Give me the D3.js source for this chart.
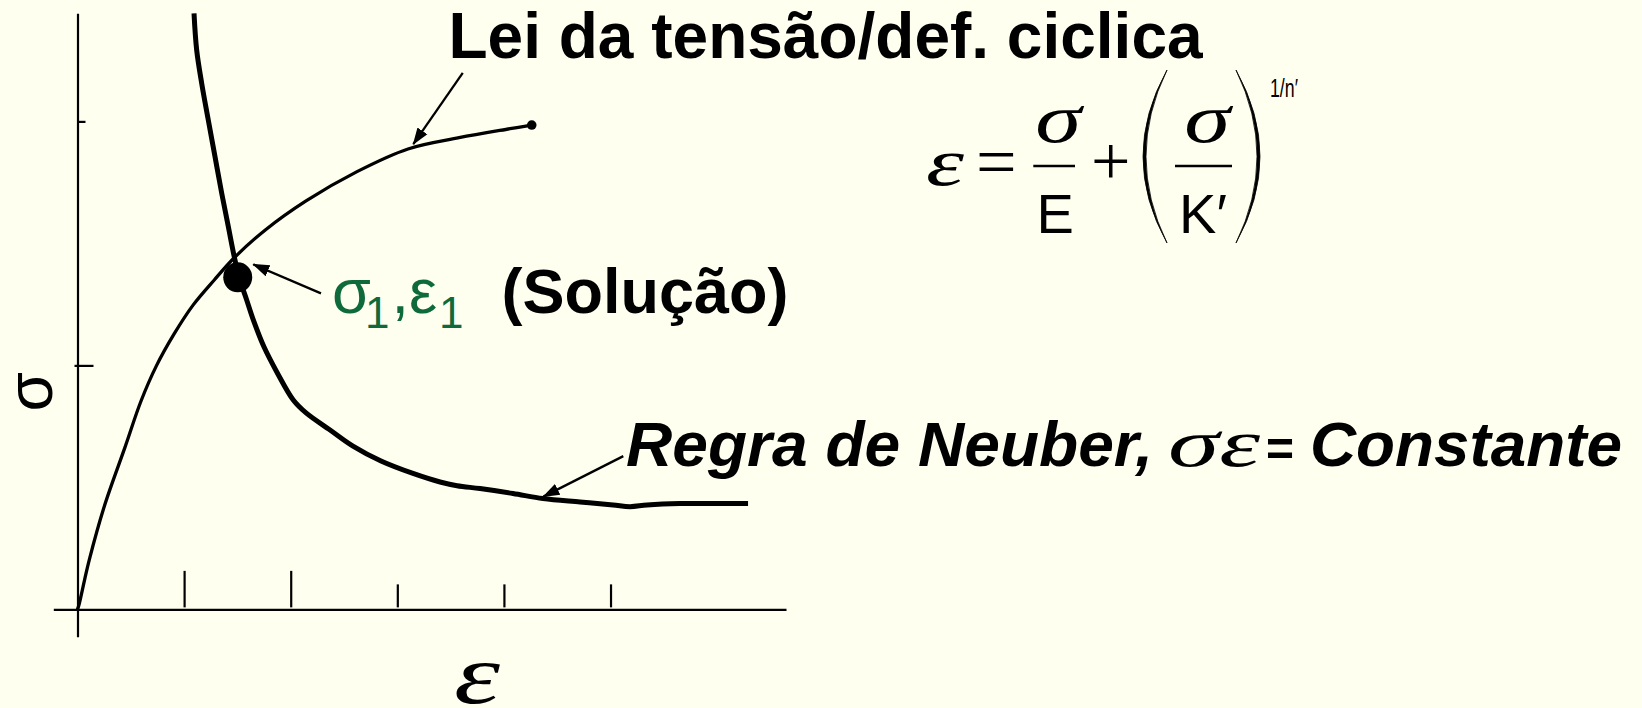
<!DOCTYPE html>
<html>
<head>
<meta charset="utf-8">
<script src="https://cdn.jsdelivr.net/npm/d3@7"></script>
<style>
  html, body { margin: 0; padding: 0; background: #FFFFF0; }
  svg { display: block; }
</style>
</head>
<body>
<svg id="chart" width="1642" height="708"></svg>
<script>
// Unlabeled ticks on the strain (ε) and stress (σ) axes
const strainTicks = [1, 2, 3, 4, 5];
const stressTicks = [1, 2];
// Extent of the drawn axis lines, in the same units
const strainExtent = [-0.227, 6.646];
const stressExtent = [-0.112, 2.443];

// Cyclic stress-strain curve, [ε, σ]
const cyclicCurve = [
  [0.000, 0.000], [0.014, 0.019], [0.066, 0.120], [0.111, 0.204],
  [0.254, 0.426], [0.446, 0.665], [0.596, 0.854], [0.741, 0.999],
  [0.905, 1.128], [1.084, 1.247], [1.283, 1.350], [1.475, 1.443],
  [1.762, 1.555], [2.144, 1.674], [2.622, 1.794], [3.100, 1.887],
  [3.579, 1.933], [4.057, 1.970], [4.261, 1.985]
];

// Neuber's rule, σε = constant, [ε, σ]
const neuberCurve = [
  [1.093, 2.443], [1.118, 2.292], [1.165, 2.156], [1.227, 2.005],
  [1.290, 1.855], [1.353, 1.705], [1.415, 1.568], [1.473, 1.440],
  [1.524, 1.350], [1.587, 1.268], [1.656, 1.178], [1.750, 1.075],
  [1.872, 0.971], [2.024, 0.858], [2.144, 0.805], [2.369, 0.735],
  [2.584, 0.669], [2.847, 0.608], [3.147, 0.557], [3.401, 0.522],
  [3.560, 0.507], [3.776, 0.495], [4.085, 0.475], [4.367, 0.454],
  [4.714, 0.440], [5.024, 0.428], [5.183, 0.421], [5.342, 0.428],
  [5.652, 0.434], [5.962, 0.434], [6.290, 0.434]
];

// Solution of the two curves, [ε1, σ1]
const solution = [1.503, 1.361];

// Leader arrows, [from, to] in [ε, σ]
const cyclicArrow = [[3.614, 2.199], [3.150, 1.907]];
const solutionArrow = [[2.284, 1.295], [1.649, 1.414]];
const neuberArrow = [[5.120, 0.628], [4.370, 0.462]];

const SANS = "'Liberation Sans', Arial, Helvetica, sans-serif";
const SERIF = "'Liberation Serif', 'Times New Roman', Times, serif";
const INK = "#000";
const GREEN = "#0f6a3b";

const svg = d3.select("#chart");

const x = d3.scaleLinear().domain(strainExtent).range([53.3, 786]);
const y = d3.scaleLinear().domain(stressExtent).range([636.7, 13.3]);

// Arrowhead marker
svg.append("defs").append("marker")
  .attr("id", "head")
  .attr("markerUnits", "userSpaceOnUse")
  .attr("viewBox", "0 -7 17 14")
  .attr("refX", 16).attr("refY", 0)
  .attr("markerWidth", 17).attr("markerHeight", 14)
  .attr("orient", "auto")
  .append("path").attr("d", "M0,-6L17,0L0,6Z").attr("fill", INK);

// Strain axis with upward ticks
const xTickLen = [38.5, 38.5, 25, 25, 25];
const gx = svg.append("g")
  .attr("transform", `translate(0,${y(0)})`)
  .call(d3.axisBottom(x).tickValues(strainTicks).tickSizeOuter(0).tickSizeInner(-30).tickFormat(""));
gx.select(".domain").attr("stroke", INK).attr("stroke-width", 2.4);
gx.selectAll(".tick line")
  .attr("stroke", INK).attr("stroke-width", 2.2)
  .attr("y1", -2).attr("y2", (d, i) => -xTickLen[i]);

// Stress axis with short ticks
const yTickSpan = [[-3, 16], [0, 8]];
const gy = svg.append("g")
  .attr("transform", `translate(${x(0)},0)`)
  .call(d3.axisLeft(y).tickValues(stressTicks).tickSizeOuter(0).tickSizeInner(0).tickFormat(""));
gy.select(".domain").attr("stroke", INK).attr("stroke-width", 2.2);
gy.selectAll(".tick line")
  .attr("stroke", INK).attr("stroke-width", 2.2)
  .attr("x1", (d, i) => yTickSpan[i][0]).attr("x2", (d, i) => yTickSpan[i][1]);

const line = d3.line()
  .x(d => x(d[0])).y(d => y(d[1]))
  .curve(d3.curveCatmullRom.alpha(0.5));

// Cyclic curve
svg.append("path").datum(cyclicCurve)
  .attr("d", line).attr("fill", "none")
  .attr("stroke", INK).attr("stroke-width", 3.3).attr("stroke-linecap", "round");
const last = cyclicCurve[cyclicCurve.length - 1];
svg.append("circle").attr("cx", x(last[0])).attr("cy", y(last[1])).attr("r", 4.8).attr("fill", INK);

// Neuber curve
svg.append("path").datum(neuberCurve)
  .attr("d", line).attr("fill", "none")
  .attr("stroke", INK).attr("stroke-width", 5).attr("stroke-linecap", "butt");

// Solution point
svg.append("ellipse")
  .attr("cx", x(solution[0])).attr("cy", y(solution[1]))
  .attr("rx", 14.5).attr("ry", 15).attr("fill", INK);

// Leader arrows
[cyclicArrow, solutionArrow, neuberArrow].forEach(a => {
  svg.append("line")
    .attr("x1", x(a[0][0])).attr("y1", y(a[0][1]))
    .attr("x2", x(a[1][0])).attr("y2", y(a[1][1]))
    .attr("stroke", INK).attr("stroke-width", 2.3)
    .attr("marker-end", "url(#head)");
});

function label(px, py, str, opts) {
  const t = svg.append("text")
    .attr("x", px).attr("y", py)
    .attr("font-family", opts.family || SANS)
    .attr("font-size", opts.size)
    .attr("font-weight", opts.weight || "normal")
    .attr("font-style", opts.style || "normal")
    .attr("fill", opts.fill || INK)
    .text(str);
  if (opts.anchor) t.attr("text-anchor", opts.anchor);
  if (opts.length) t.attr("textLength", opts.length).attr("lengthAdjust", "spacingAndGlyphs");
  return t;
}

// Curve captions
label(448.5, 58.3, "Lei da tensão/def. ciclica", { size: 64, weight: "bold" });
label(501.5, 312.5, "(Solução)", { size: 63, weight: "bold" });

// σ1,ε1 in green with subscripts
const sol = svg.append("text")
  .attr("font-family", SANS).attr("fill", GREEN).attr("font-size", 63);
sol.append("tspan").attr("x", 332).attr("y", 313).text("σ");
sol.append("tspan").attr("x", 365).attr("y", 328).attr("font-size", 44).text("1");
sol.append("tspan").attr("x", 391.5).attr("y", 313).text(",");
sol.append("tspan").attr("x", 409).attr("y", 313).text("ε");
sol.append("tspan").attr("x", 439).attr("y", 328).attr("font-size", 44).text("1");

// Neuber caption
label(626, 466, "Regra de Neuber,", { size: 63, weight: "bold", style: "italic", length: 527 });
label(1168, 466, "σε", { size: 68, style: "italic", family: SERIF, length: 92 });
label(1266, 466, "=", { size: 50, weight: "bold", length: 28 });
label(1310, 466, "Constante", { size: 63, weight: "bold", style: "italic", length: 312 });

// Formula ε = σ/E + (σ/K′)^(1/n′)
label(926, 185, "ε", { size: 68, style: "italic", family: SERIF, length: 38 });
label(976, 185.5, "=", { size: 72, family: SERIF });
label(1058.3, 141.5, "σ", { size: 70, style: "italic", family: SERIF, anchor: "middle", length: 46 });
svg.append("line").attr("x1", 1033.3).attr("x2", 1075).attr("y1", 166).attr("y2", 166)
  .attr("stroke", INK).attr("stroke-width", 2.6);
label(1055.3, 232.7, "E", { size: 56, anchor: "middle" });
label(1091, 185, "+", { size: 70, family: SERIF });
svg.append("path")
  .attr("d", "M1167,70 Q1119,156.5 1167,243 Q1125,156.5 1167,70Z")
  .attr("fill", INK).attr("stroke", INK).attr("stroke-width", 0.8);
label(1207.3, 141.5, "σ", { size: 70, style: "italic", family: SERIF, anchor: "middle", length: 46 });
svg.append("line").attr("x1", 1175).attr("x2", 1232).attr("y1", 166).attr("y2", 166)
  .attr("stroke", INK).attr("stroke-width", 2.6);
label(1203, 232.7, "K′", { size: 56, anchor: "middle" });
svg.append("path")
  .attr("d", "M1236,70 Q1284,156.5 1236,243 Q1278,156.5 1236,70Z")
  .attr("fill", INK).attr("stroke", INK).attr("stroke-width", 0.8);
label(1270, 97, "1/n′", { size: 25, length: 28 });

// Axis titles
svg.append("text")
  .attr("transform", "translate(51.7,391.7) rotate(-90)")
  .attr("text-anchor", "middle")
  .attr("font-family", SANS).attr("font-size", 64).attr("fill", INK)
  .text("σ");
label(477, 703, "ε", { size: 84, style: "italic", family: SERIF, anchor: "middle", length: 46 });
</script>
</body>
</html>
